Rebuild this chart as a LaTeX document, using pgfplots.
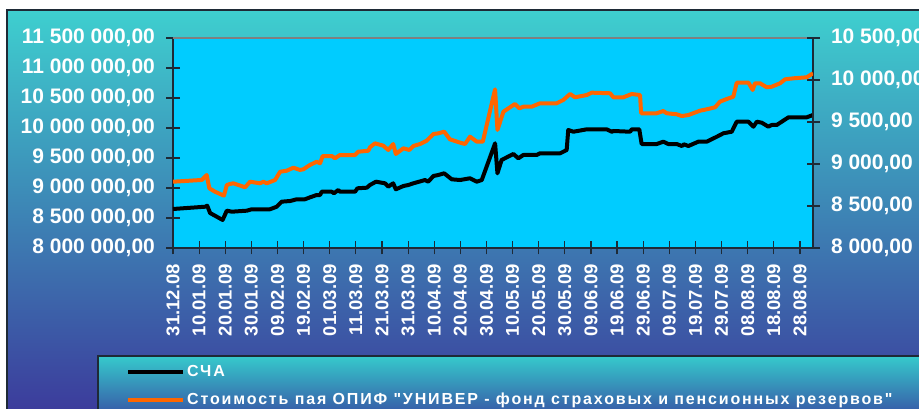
\documentclass[border=0pt]{standalone}
\usepackage{fontspec}
\setmainfont{Liberation Sans}[Ligatures=TeXOff]
\usepackage{pgfplots}
\usepackage{pgfplotstable}
\pgfplotsset{compat=1.18}

\definecolor{plotbg}{HTML}{00CCFF}
\definecolor{orangeline}{HTML}{FF6600}
\definecolor{frametop}{HTML}{3ECFCF}
\definecolor{framebot}{HTML}{3C3C9C}
\definecolor{legtop}{HTML}{36CACC}
\definecolor{legbot}{HTML}{3762AA}
\definecolor{edge}{HTML}{1E2A36}

% day 0 = 31.12.08
\pgfplotstableread{
day sca
0 8650000
12.3 8688000
13.1 8705000
14.2 8583000
19.0 8467000
20.6 8622000
22.5 8605000
28.3 8622000
30.1 8645000
37.1 8645000
39.7 8688000
41.6 8772000
44.8 8783000
47.4 8812000
50.5 8812000
52.5 8845000
55.0 8883000
56.3 8883000
56.9 8938000
60.8 8938000
61.6 8912000
63.3 8967000
63.9 8938000
69.7 8938000
70.6 8995000
74.2 9005000
75.4 9050000
77.7 9105000
81.2 9078000
82.4 9022000
84.3 9078000
85.3 8978000
88.2 9033000
90.1 9050000
92.0 9078000
96.5 9133000
97.7 9105000
99.7 9200000
101.6 9217000
103.8 9245000
106.7 9145000
109.9 9133000
113.7 9162000
116.3 9105000
118.2 9133000
123.3 9745000
124.2 9245000
125.8 9467000
130.3 9567000
132.2 9495000
134.1 9550000
139.2 9550000
140.5 9578000
148.2 9578000
150.7 9633000
151.3 9967000
153.3 9938000
158.4 9978000
166.0 9978000
168.0 9938000
168.6 9950000
175.0 9938000
175.6 9978000
178.5 9978000
179.4 9733000
185.2 9733000
187.7 9772000
189.6 9733000
192.8 9733000
194.8 9700000
195.6 9728000
197.3 9700000
201.1 9772000
204.3 9772000
208.2 9855000
210.7 9912000
213.9 9938000
215.8 10105000
220.3 10105000
222.2 10022000
223.5 10105000
225.4 10088000
227.9 10022000
229.2 10050000
231.1 10050000
235.6 10178000
242.6 10178000
245.0 10217000
}\scatable

\pgfplotstableread{
day pai
0 8789
11.0 8810
12.9 8869
13.9 8711
16.1 8670
19.5 8623
20.6 8750
21.8 8762
23.1 8770
27.6 8723
29.5 8789
33.3 8770
34.6 8789
35.9 8770
39.1 8810
41.0 8908
43.5 8920
46.1 8956
48.6 8929
49.9 8937
52.4 8988
55.0 9027
56.3 9008
57.3 9095
60.8 9095
62.0 9068
63.9 9107
69.7 9107
70.9 9146
74.8 9158
75.4 9199
77.3 9246
80.5 9218
82.4 9167
84.3 9238
85.3 9119
88.2 9187
90.5 9167
92.0 9214
94.6 9238
97.1 9277
99.7 9357
101.6 9365
103.8 9385
106.0 9294
109.9 9254
111.8 9238
113.7 9325
116.3 9266
118.6 9266
123.3 9889
124.2 9405
126.5 9623
130.9 9714
132.6 9663
134.1 9682
137.3 9682
140.5 9723
146.9 9723
149.4 9762
152.0 9833
153.9 9794
158.4 9821
160.3 9849
167.3 9842
168.6 9794
172.4 9794
175.6 9833
178.8 9821
179.2 9604
185.2 9604
187.7 9631
189.0 9604
192.8 9592
194.8 9571
197.3 9583
201.8 9635
204.3 9651
207.5 9675
209.4 9742
212.0 9774
214.5 9801
215.8 9968
220.3 9968
221.9 9881
222.8 9961
224.7 9961
227.3 9913
229.2 9920
232.4 9961
234.3 10008
237.5 10020
242.6 10032
245.0 10080
}\paitable

\pgfplotsset{
  chartbase/.style={
    at={(173pt,161pt)}, anchor=south west,
    width=640pt, height=210pt, scale only axis,
    xmin=0, xmax=245,
    tick align=center, major tick length=13pt,
    tick style={edge, line width=1.2pt},
    axis line style={edge, line width=1.5pt},
    scaled y ticks=false,
    ticklabel style={text=white},
    yticklabel style={font=\fontsize{21}{21}\selectfont\bfseries},
  },
}

\begin{document}
\begin{tikzpicture}
\path[use as bounding box] (0pt,0pt) rectangle (919pt,409pt);
\clip (0pt,0pt) rectangle (919pt,409pt);
\shade[top color=frametop, bottom color=framebot] (7pt,0pt) rectangle (930pt,399pt);
\draw[edge, line width=1.5pt] (7pt,0pt) -- (7pt,399pt) -- (930pt,399pt);
\shade[top color=legtop, bottom color=legbot] (98pt,0pt) rectangle (930pt,53pt);
\draw[edge, line width=1.5pt] (98pt,0pt) -- (98pt,53pt) -- (930pt,53pt);

\begin{axis}[
  chartbase,
  ymin=8000000, ymax=11500000,
  axis x line*=bottom, axis y line*=left,
  axis background/.style={fill=plotbg},
  xtick={0,10,...,240},
  xticklabels={31.12.08,10.01.09,20.01.09,30.01.09,09.02.09,19.02.09,01.03.09,11.03.09,21.03.09,31.03.09,10.04.09,20.04.09,30.04.09,10.05.09,20.05.09,30.05.09,09.06.09,19.06.09,29.06.09,09.07.09,19.07.09,29.07.09,08.08.09,18.08.09,28.08.09},
  xticklabel style={rotate=90, anchor=east, font=\fontsize{18.5}{19}\selectfont\bfseries},
  xticklabel shift=6pt,
  ytick={8000000,8500000,9000000,9500000,10000000,10500000,11000000,11500000},
  yticklabels={{8 000 000,00},{8 500 000,00},{9 000 000,00},{9 500 000,00},{10 000 000,00},{10 500 000,00},{11 000 000,00},{11 500 000,00}},
  yticklabel style={xshift=-8pt},
  after end axis/.code={\draw[gray, line width=1.5pt] (rel axis cs:0,1) -- (rel axis cs:1,1);},
]
\addplot[black, line width=4pt, line join=round, no marks] table[x=day, y=sca] {\scatable};
\end{axis}

\begin{axis}[
  chartbase,
  ymin=8000, ymax=10500,
  axis y line*=right, axis x line=none,
  ytick={8000,8500,9000,9500,10000,10500},
  yticklabels={{8 000,00},{8 500,00},{9 000,00},{9 500,00},{10 000,00},{10 500,00}},
  yticklabel style={anchor=west, xshift=8pt},
  legend style={at={(axis description cs:-0.0734,-0.55)}, anchor=north west,
    draw=none, fill=none, inner sep=0pt, row sep=11pt,
    font=\fontsize{16}{16}\selectfont\bfseries\addfontfeature{LetterSpace=11.5},
    text=white},
  legend cell align=left,
  legend image code/.code={\draw[#1, line width=4pt] (0pt,0pt) -- (55pt,0pt);},
]
\addlegendimage{black}
\addlegendentry{СЧА}
\addplot[orangeline, line width=4pt, line join=round, no marks] table[x=day, y=pai] {\paitable};
\addlegendentry{Стоимость пая ОПИФ "УНИВЕР - фонд страховых и пенсионных резервов"}
\end{axis}
\end{tikzpicture}
\end{document}
